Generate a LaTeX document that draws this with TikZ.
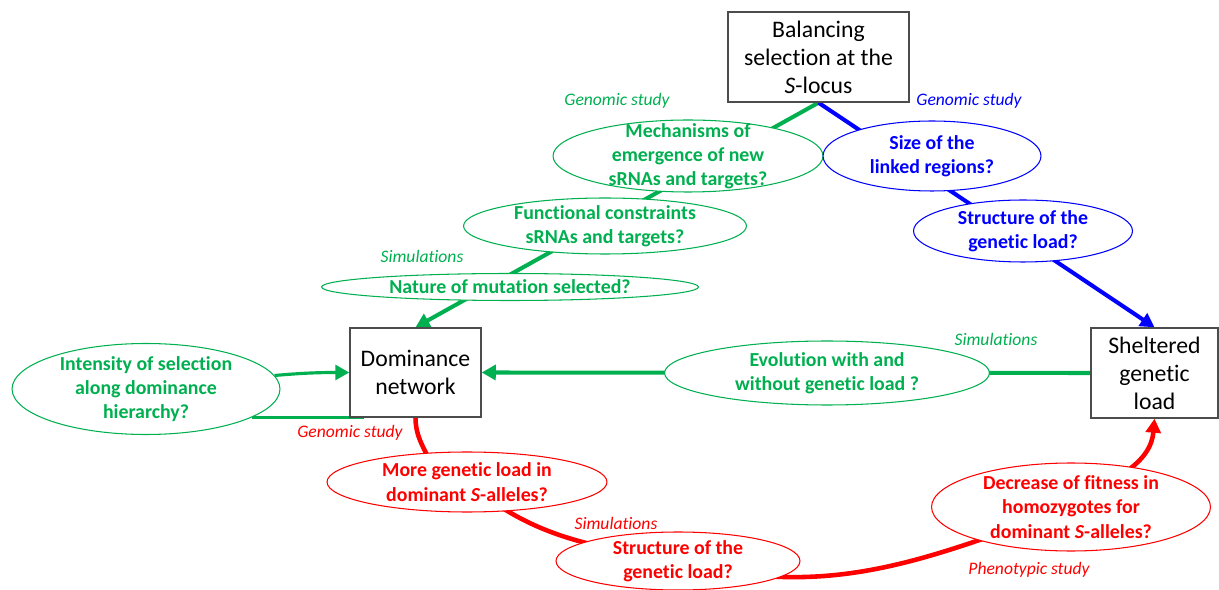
\documentclass[tikz,border=0pt]{standalone}
\usepackage{fontspec}
\setmainfont{Carlito}[Ligatures=NoCommon]
\usetikzlibrary{arrows.meta, shapes.geometric, backgrounds}

\definecolor{pgreen}{RGB}{0,176,80}
\definecolor{pblue}{RGB}{0,0,255}
\definecolor{pred}{RGB}{255,0,0}

\begin{document}
\begin{tikzpicture}[x=0.02cm, y=0.02cm, >={Triangle[length=8pt, width=8.5pt]},
    box/.style={draw=black!70, line width=0.8pt, fill=white, inner sep=0pt,
        align=center, font=\fontsize{13.5}{16}\selectfont},
    oval/.style={ellipse, draw=#1, text=#1, fill=white, line width=0.6pt, inner sep=-40pt,
        align=center, font=\bfseries\fontsize{11.3}{13.8}\selectfont},
    how/.style={font=\itshape\fontsize{10}{12}\selectfont, inner sep=0pt},
    link/.style={line width=2.3pt}]

    \useasboundingbox (0,0) rectangle (1219,-590);

    % 1. 三个主题方框
    \node[box, minimum width=3.62cm, minimum height=1.8cm] (bal) at (818.5,-57)
        {Balancing\\selection at the\\\textit{S}-locus};
    \node[box, minimum width=2.62cm, minimum height=1.78cm] (dom) at (415.5,-372.5)
        {Dominance\\network};
    \node[box, minimum width=2.54cm, minimum height=1.8cm] (shel) at (1154.5,-373)
        {Sheltered\\genetic\\load};

    % 2. 问题椭圆
    \node[oval=pgreen, minimum width=5.4cm, minimum height=1.44cm] (mech) at (688,-156)
        {Mechanisms of\\emergence of new\\sRNAs and targets?};
    \node[oval=pgreen, minimum width=5.66cm, minimum height=1.12cm] (func) at (605,-226)
        {Functional constraints\\sRNAs and targets?};
    \node[oval=pgreen, minimum width=7.54cm, minimum height=0.54cm] (nat) at (510,-287)
        {Nature of mutation selected?};
    \node[oval=pblue, minimum width=4.36cm, minimum height=1.4cm] (size) at (932,-156)
        {Size of the\\linked regions?};
    \node[oval=pblue, minimum width=4.38cm, minimum height=1.24cm] (strucb) at (1023,-231)
        {Structure of the\\genetic load?};
    \node[oval=pgreen, minimum width=5.36cm, minimum height=1.82cm] (int) at (146,-389)
        {Intensity of selection\\along dominance\\hierarchy?};
    \node[oval=pgreen, minimum width=6.5cm, minimum height=1.28cm] (evol) at (827,-373)
        {Evolution with and\\without genetic load ?};
    \node[oval=pred, minimum width=5.6cm, minimum height=1.2cm] (more) at (467,-482)
        {More genetic load in\\dominant \textit{S}-alleles?};
    \node[oval=pred, minimum width=4.88cm, minimum height=1.16cm] (strucr) at (678,-561)
        {Structure of the\\genetic load?};
    \node[oval=pred, minimum width=5.58cm, minimum height=1.76cm] (decr) at (1071,-507)
        {Decrease of fitness in\\homozygotes for\\dominant \textit{S}-alleles?};

    % 3. 研究方法标注
    \node[how, pgreen] (gsa) at (617,-101) {Genomic study};
    \node[how, pblue] (gsb) at (969,-101) {Genomic study};
    \node[how, pgreen] (sima) at (422,-256) {Simulations};
    \node[how, pgreen] (simb) at (996,-339) {Simulations};
    \node[how, pred] (gsc) at (350,-433) {Genomic study};
    \node[how, pred] (simc) at (616,-523) {Simulations};
    \node[how, pred] (phe) at (1029,-570) {Phenotypic study};

    % 4. 连线放在背景层，椭圆盖在上面
    \begin{scope}[on background layer]
        \draw[link, pgreen, ->] (bal.south) -- (dom.north);
        \draw[link, pblue, ->] (bal.south) -- (shel.north);
        \draw[link, pgreen, ->] (shel.west) -- (dom.east);
        \draw[line width=1.8pt, pgreen, ->] (int.6) to[out=5, in=180] (dom.west);
        \coordinate (dfoot) at ([xshift=0.3cm]dom.south west);
        \draw[line width=1.8pt, pgreen] (int.-15) -- (int.-15 -| dfoot);
        % 红色曲线
        \draw[line width=2.6pt, pred] (dom.south) to[out=-90, in=100] ([xshift=-0.6cm]more.center);
        \draw[line width=2.6pt, pred] (more.center) to[out=-40, in=170] (strucr.center);
        \draw[line width=2.6pt, pred] (strucr.center) to[out=-15, in=200] (decr.center);
        \draw[line width=2.6pt, pred, ->] (decr.center) to[out=35, in=-95] (shel.south);
    \end{scope}

\end{tikzpicture}
\end{document}
